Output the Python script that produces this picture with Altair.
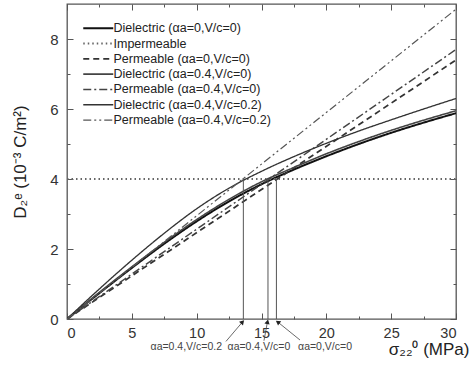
import altair as alt
import pandas as pd

FONT = "Liberation Sans"

series_names = [
    "Dielectric (αa=0,V/c=0)",
    "Impermeable",
    "Permeable (αa=0,V/c=0)",
    "Dielectric (αa=0.4,V/c=0)",
    "Permeable (αa=0.4,V/c=0)",
    "Dielectric (αa=0.4,V/c=0.2)",
    "Permeable (αa=0.4,V/c=0.2)",
]

# dielectric curves
sigma_curve = [0, 2.5, 5, 7.5, 10, 12.5, 15, 17.5, 20, 22.5, 25, 27.5, 30]
diel_0_0 = [0, 0.74, 1.46, 2.15, 2.79, 3.36, 3.85, 4.27, 4.65, 5.00, 5.32, 5.61, 5.88]
diel_04_0 = [0, 0.76, 1.49, 2.19, 2.84, 3.42, 3.92, 4.33, 4.72, 5.07, 5.39, 5.68, 5.95]
diel_04_02 = [0, 0.86, 1.68, 2.45, 3.15, 3.74, 4.22, 4.64, 5.02, 5.37, 5.69, 6.00, 6.30]

# straight lines
sigma_line = [0, 30]
imperm = [4.0, 4.0]
perm_0_0 = [0, 7.40]
perm_04_0 = [0, 7.70]
perm_04_02 = [0, 8.85]

# critical stresses where D = 4
crit_sigma = [13.6, 15.5, 16.15]
crit_D = [4.0, 4.0, 4.0]

# annotations below the axis (data coords)
ann_text = ["αa=0.4,V/c=0.2", "αa=0.4,V/c=0", "αa=0,V/c=0"]
ann_text_x = [9.2, 14.8, 19.9]
ann_text_y = [-0.8, -0.8, -0.8]
arrow_x0 = [12.26, 15.19, 17.97]
arrow_y0 = [-0.64, -0.62, -0.60]
arrow_x1 = [13.5, 15.45, 16.3]
arrow_y1 = [-0.10, -0.10, -0.10]
arrow_angle = [42, 13, 306]

x_major = [0, 5, 10, 15, 20, 25, 30]
x_minor = [2.5, 7.5, 12.5, 17.5, 22.5, 27.5]
y_major = [0, 2, 4, 6, 8]
y_minor = [1, 3, 5, 7]

colors = ["#111111", "#666666", "#333333", "#444444", "#444444", "#333333", "#555555"]
widths = [2.0, 1.2, 1.2, 0.8, 1.2, 1.4, 1.2]
dashes = [[1, 0], [1.5, 3], [6, 4], [1, 0], [8, 3, 2, 3], [1, 0], [8, 3, 2, 3, 2, 3]]

rows = []
for name, xs, ys in [
    (series_names[0], sigma_curve, diel_0_0),
    (series_names[1], sigma_line, imperm),
    (series_names[2], sigma_line, perm_0_0),
    (series_names[3], sigma_curve, diel_04_0),
    (series_names[4], sigma_line, perm_04_0),
    (series_names[5], sigma_curve, diel_04_02),
    (series_names[6], sigma_line, perm_04_02),
]:
    for x, y in zip(xs, ys):
        rows.append({"series": name, "sigma": x, "D": y})
df = pd.DataFrame(rows)

crit_df = pd.DataFrame({"sigma": crit_sigma, "D0": [0] * 3, "D1": crit_D})
arrow_df = pd.DataFrame({"x0": arrow_x0, "y0": arrow_y0, "x1": arrow_x1, "y1": arrow_y1, "angle": arrow_angle})
ann_df = pd.DataFrame({"t": ann_text, "x": ann_text_x, "y": ann_text_y})

xs = alt.Scale(domain=[0, 30], nice=False, zero=False)
ys = alt.Scale(domain=[0, 9], nice=False, zero=False)


def tick_axis(orient, values, size, **kw):
    return alt.Axis(orient=orient, values=values, tickSize=size, offset=-size, domain=False,
                    grid=False, labels=False, title=None, tickColor="#555", tickWidth=1, **kw)


legend = alt.Legend(orient="none", legendX=25, legendY=18, title=None, symbolType="M-3,0L3,0",
                    symbolSize=100, labelFontSize=12.5, labelFont=FONT, labelColor="#222",
                    rowPadding=2.3, labelOffset=9)

lines = alt.Chart(df).mark_line(interpolate="monotone", clip=True).encode(
    x=alt.X("sigma:Q", scale=xs, axis=alt.Axis(
        orient="bottom", values=x_major, tickSize=6, offset=-6, domain=False, grid=False,
        labelPadding=7, labelFontSize=14.5, labelFont=FONT, labelColor="#333", tickColor="#555",
        format="d", title="σ₂₂⁰ (MPa)", titleFont=FONT, titleFontSize=17, titleFontWeight="normal",
        titleColor="#222", titleAlign="right", titleX=402, titleY=45, titleBaseline="bottom")),
    y=alt.Y("D:Q", scale=ys, axis=alt.Axis(
        orient="left", values=y_major, tickSize=6, offset=-6, domain=False, grid=False,
        labelPadding=9, labelFontSize=15, labelFont=FONT, labelColor="#333", tickColor="#555",
        format="d", title="D₂ᵉ (10⁻³ C/m²)", titleFont=FONT, titleFontSize=17,
        titleFontWeight="normal", titleColor="#222", titlePadding=20)),
    color=alt.Color("series:N", scale=alt.Scale(domain=series_names, range=colors), legend=legend),
    strokeDash=alt.StrokeDash("series:N", scale=alt.Scale(domain=series_names, range=dashes), legend=legend),
    strokeWidth=alt.StrokeWidth("series:N", scale=alt.Scale(domain=series_names, range=widths), legend=legend),
    detail="series:N",
)

crit = alt.Chart(crit_df).mark_rule(color="#555", strokeWidth=1).encode(
    x=alt.X("sigma:Q", scale=xs, axis=tick_axis("bottom", x_minor, 3)),
    y=alt.Y("D0:Q", scale=ys, axis=tick_axis("left", y_minor, 3)),
    y2="D1:Q",
)

arrows = alt.Chart(arrow_df).mark_rule(color="#444", strokeWidth=0.8).encode(
    x=alt.X("x0:Q", scale=xs, axis=tick_axis("top", x_major, 6)),
    y=alt.Y("y0:Q", scale=ys, axis=tick_axis("right", y_major, 6)),
    x2="x1:Q",
    y2="y1:Q",
)

heads = alt.Chart(arrow_df).mark_point(shape="triangle", filled=True, color="#222", size=28, opacity=1).encode(
    x=alt.X("x1:Q", scale=xs, axis=tick_axis("top", x_minor, 3)),
    y=alt.Y("y1:Q", scale=ys, axis=tick_axis("right", y_minor, 3)),
    angle=alt.Angle("angle:Q", scale=None),
)

texts = alt.Chart(ann_df).mark_text(fontSize=10.5, font=FONT, color="#444", baseline="middle").encode(
    x=alt.X("x:Q", scale=xs, axis=None),
    y=alt.Y("y:Q", scale=ys, axis=None),
    text="t:N",
)

chart = alt.layer(lines, crit, arrows, heads, texts).resolve_scale(
    x="shared", y="shared").resolve_axis(x="independent", y="independent").properties(
    width=389, height=315, autosize="none",
    padding={"left": 67, "top": 4, "right": 13, "bottom": 47},
    background="white",
).configure_view(stroke="#555", strokeWidth=1.3)

chart.save("out.html", embed_options={"renderer": "svg", "actions": False})
